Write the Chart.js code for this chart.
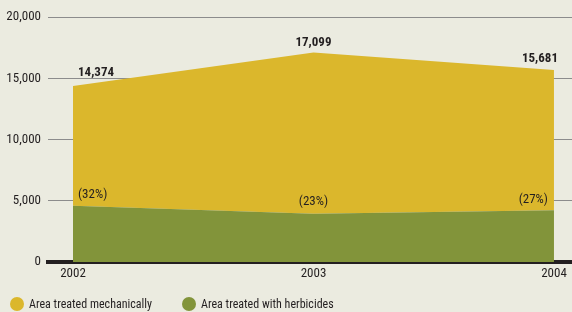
<!DOCTYPE html>
<html>
<head>
<meta charset="utf-8">
<script src="https://cdn.jsdelivr.net/npm/chart.js@4"></script>
<style>
	html, body {
		margin: 0;
		padding: 0;
		background: #ebebe0;
	}
	#wrap {
		position: relative;
		width: 572px;
		height: 312px;
		font-family: 'Roboto Condensed', 'Liberation Sans', sans-serif;
		color: #231f20;
	}
	.key {
		position: absolute;
		top: 297px;
		font-size: 12px;
		line-height: 14px;
		white-space: nowrap;
	}
	.key i {
		position: absolute;
		left: -19px;
		top: 0;
		width: 14px;
		height: 14px;
		border-radius: 50%;
	}
</style>
</head>
<body>
<div id="wrap">
	<canvas id="myChart" width="572" height="312"></canvas>
	<div class="key" style="left: 29px"><i style="background: #dbb72c"></i>Area treated mechanically</div>
	<div class="key" style="left: 201px"><i style="background: #82943a"></i>Area treated with herbicides</div>
</div>
<script>
// data (hectares)
var years = [2002, 2003, 2004];
var totals = [14374, 17099, 15681];
var herbicidePct = [32, 23, 27];
var herbicides = [4600, 3933, 4234];
var mechanical = [9774, 13166, 11447];
var yTicks = [0, 5000, 10000, 15000, 20000];

var font = "'Roboto Condensed', 'Liberation Sans', sans-serif";
var ink = '#231f20';

function points(values) {
	return values.map(function (v, i) {
		return { x: years[i], y: v };
	});
}

// total and share labels, placed off the stacked points
var labelPlugin = {
	id: 'labels',
	afterDatasetsDraw: function (chart) {
		var ctx = chart.ctx;
		var green = chart.getDatasetMeta(0).data;
		var yellow = chart.getDatasetMeta(1).data;
		var aligns = ['left', 'center', 'right'];
		ctx.save();
		ctx.fillStyle = ink;
		ctx.textBaseline = 'middle';
		yellow.forEach(function (pt, i) {
			ctx.textAlign = aligns[i];
			var dx = [5, 0, 4][i];
			ctx.font = 'bold 13px ' + font;
			ctx.fillText(totals[i].toLocaleString('en-US'), pt.x + dx, pt.y - [13, 10, 11][i]);
		});
		green.forEach(function (pt, i) {
			ctx.textAlign = aligns[i];
			var dx = [5, 0, -6][i];
			ctx.font = '13px ' + font;
			ctx.fillText('(' + herbicidePct[i] + '%)', pt.x + dx, pt.y - [11, 12, 10][i]);
		});
		ctx.restore();
	},
};

var ctx = document.getElementById('myChart').getContext('2d');
var myChart = new Chart(ctx, {
	type: 'line',
	data: {
		datasets: [
			{
				label: 'Area treated with herbicides',
				data: points(herbicides),
				backgroundColor: '#82943a',
				borderWidth: 0,
				pointRadius: 0,
				fill: 'origin',
				tension: 0,
			},
			{
				label: 'Area treated mechanically',
				data: points(mechanical),
				backgroundColor: '#dbb72c',
				borderWidth: 0,
				pointRadius: 0,
				fill: '-1',
				tension: 0,
			},
		],
	},
	options: {
		responsive: false,
		animation: false,
		layout: {
			padding: { top: 17, right: 0, bottom: 28, left: 0 },
		},
		plugins: {
			legend: { display: false },
			tooltip: { enabled: false },
		},
		scales: {
			x: {
				type: 'linear',
				min: 2001.896,
				max: 2004.075,
				z: 1,
				afterBuildTicks: function (scale) {
					scale.ticks = years.map(function (y) {
						return { value: y };
					});
				},
				afterFit: function (scale) {
					scale.height = 22;
				},
				ticks: {
					padding: 4,
					color: ink,
					font: { family: font, size: 13 },
					callback: function (value) {
						return String(value);
					},
				},
				grid: { display: false, drawTicks: false },
				border: { display: true, color: '#231f20', width: 4 },
			},
			y: {
				stacked: true,
				min: 0,
				max: 20000,
				afterBuildTicks: function (scale) {
					scale.ticks = yTicks.map(function (v) {
						return { value: v };
					});
				},
				afterFit: function (scale) {
					scale.width = 48;
				},
				ticks: {
					padding: 7,
					color: ink,
					font: { family: font, size: 13 },
					callback: function (value) {
						return value.toLocaleString('en-US');
					},
				},
				grid: { color: '#8c8c8c', lineWidth: 1, drawTicks: false },
				border: { display: false },
			},
		},
	},
	plugins: [labelPlugin],
});
</script>
</body>
</html>
